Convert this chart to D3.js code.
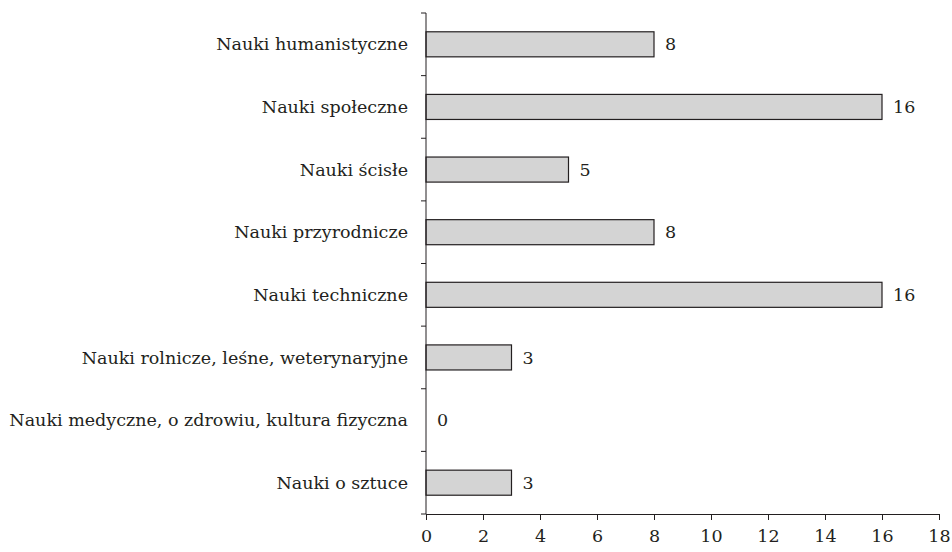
<!DOCTYPE html>
<html>
<head>
<meta charset="utf-8">
<script src="https://cdn.jsdelivr.net/npm/d3@7"></script>
<style>
    body { margin: 0; background: #fff; }
</style>
</head>
<body>
<div id="chart"></div>
<script>
const categories = [
    "Nauki humanistyczne",
    "Nauki społeczne",
    "Nauki ścisłe",
    "Nauki przyrodnicze",
    "Nauki techniczne",
    "Nauki rolnicze, leśne, weterynaryjne",
    "Nauki medyczne, o zdrowiu, kultura fizyczna",
    "Nauki o sztuce"
];
const values = [8, 16, 5, 8, 16, 3, 0, 3];
const xTicks = [0, 2, 4, 6, 8, 10, 12, 14, 16, 18];

const width = 952, height = 552;
const margin = { top: 13, right: 13, bottom: 38, left: 426 };
const font = "DejaVu Serif";
const fontSize = 17.5;
const ink = "#231f20";

const svg = d3.select("#chart").append("svg")
    .attr("width", width)
    .attr("height", height)
    .attr("font-family", font);

const x = d3.scaleLinear()
    .domain([0, 18])
    .range([margin.left, width - margin.right]);

const y = d3.scaleBand()
    .domain(categories)
    .range([margin.top, height - margin.bottom])
    .paddingInner(0.6)
    .paddingOuter(0.3);

// bars (zero value gets no rect)
svg.append("g").selectAll("rect")
    .data(categories)
    .join("rect")
    .attr("x", x(0))
    .attr("y", d => y(d))
    .attr("width", (d, i) => x(values[i]) - x(0))
    .attr("height", y.bandwidth())
    .attr("fill", "#d4d4d4")
    .attr("stroke", ink)
    .attr("stroke-width", 1.2)
    .attr("display", (d, i) => values[i] ? null : "none");

// value labels
svg.append("g").selectAll("text")
    .data(categories)
    .join("text")
    .attr("x", (d, i) => x(values[i]) + 11)
    .attr("y", d => y(d) + y.bandwidth() / 2)
    .attr("dy", "0.35em")
    .attr("font-size", fontSize)
    .attr("fill", ink)
    .text((d, i) => values[i]);

// x axis
const xAxis = svg.append("g")
    .attr("transform", `translate(0, ${height - margin.bottom})`)
    .call(d3.axisBottom(x).tickValues(xTicks).tickSize(6).tickPadding(10).tickSizeOuter(0))
    .attr("font-family", font)
    .attr("font-size", fontSize);
xAxis.selectAll("text").attr("fill", ink);

// y axis: ticks sit between categories
const yEdges = d3.range(categories.length + 1)
    .map(i => margin.top + i * (height - margin.top - margin.bottom) / categories.length);
const yAxis = svg.append("g");
yAxis.append("line")
    .attr("x1", x(0)).attr("x2", x(0))
    .attr("y1", margin.top).attr("y2", height - margin.bottom)
    .attr("stroke", ink);
yAxis.selectAll("line.tick")
    .data(yEdges)
    .join("line")
    .attr("class", "tick")
    .attr("x1", x(0) - 5).attr("x2", x(0))
    .attr("y1", d => d).attr("y2", d => d)
    .attr("stroke", ink);
yAxis.selectAll("text")
    .data(categories)
    .join("text")
    .attr("x", x(0) - 18)
    .attr("y", d => y(d) + y.bandwidth() / 2)
    .attr("dy", "0.35em")
    .attr("text-anchor", "end")
    .attr("font-size", fontSize)
    .attr("fill", ink)
    .text(d => d);

svg.selectAll(".domain, .tick line").attr("stroke", ink);
</script>
</body>
</html>
